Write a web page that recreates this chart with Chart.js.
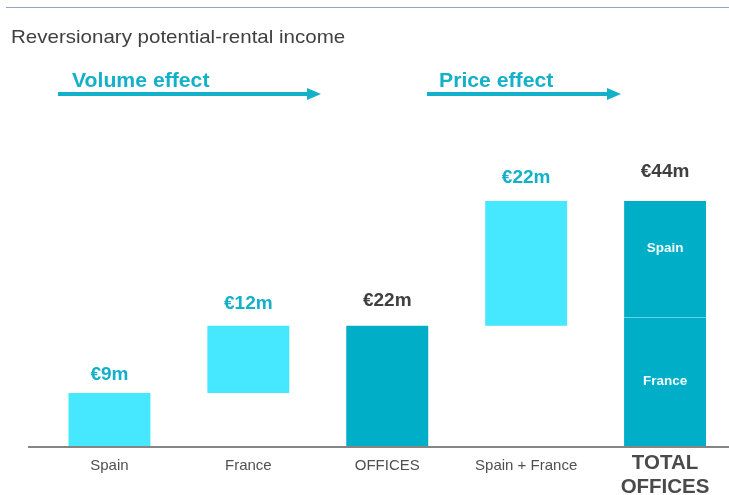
<!DOCTYPE html>
<html>
<head>
<meta charset="utf-8">
<script src="https://cdn.jsdelivr.net/npm/chart.js@4.4.1/dist/chart.umd.min.js"></script>
<style>
    html, body { margin: 0; padding: 0; background: #fff; overflow: hidden; }
    body { width: 729px; height: 495px; position: relative; font-family: "Liberation Sans", Arial, sans-serif; }
    #wrap { position: absolute; left: 0; top: 0; width: 745px; height: 495px; }
    .rule { position: absolute; left: 6px; top: 7px; width: 723px; height: 1px; background: #93a5b8; }
    .title { position: absolute; left: 11px; top: 26.5px; font-size: 19px; line-height: 1; color: #404040; white-space: nowrap; transform: scaleX(1.08); transform-origin: left center; }
    .effect { position: absolute; top: 70px; font-size: 20px; line-height: 1; font-weight: bold; color: #13b0c9; white-space: nowrap; transform: scaleX(1.06); transform-origin: left center; }
    .shaft { position: absolute; top: 92px; height: 4px; background: #13b0c9; }
    .head { position: absolute; top: 87.5px; width: 0; height: 0; border-left: 14px solid #13b0c9; border-top: 6.5px solid transparent; border-bottom: 6.5px solid transparent; }
</style>
</head>
<body>
<div id="wrap"><canvas id="chart" width="745" height="495"></canvas></div>
<div class="rule"></div>
<div class="title">Reversionary potential-rental income</div>
<div class="effect" style="left:72px">Volume effect</div>
<div class="shaft" style="left:58px;width:250px"></div>
<div class="head" style="left:307px"></div>
<div class="effect" style="left:439px">Price effect</div>
<div class="shaft" style="left:427px;width:181px"></div>
<div class="head" style="left:607px"></div>
<script>
document.addEventListener('DOMContentLoaded', function () {
    // data (EUR m)
    const categories = ['Spain', 'France', 'OFFICES', 'Spain + France', ['TOTAL', 'OFFICES']];
    const effectBars = [[0, 9.5], [9.5, 21.6], null, [21.6, 44], null];
    const officeBars = [null, null, [0, 21.6], null, [0, 23.0]];
    const totalSpainBar = [null, null, null, null, [23.0, 44]];
    const valueLabels = ['€9m', '€12m', '€22m', '€22m', '€44m'];
    const segmentLabels = ['France', 'Spain'];

    const LIGHT = '#46e8ff';
    const DARK = '#00aec7';
    const TEAL_TEXT = '#13b0c9';
    const GREY_TEXT = '#404040';
    const FONT = '"Liberation Sans", Arial, sans-serif';

    // labels above bars + inside the total bar
    const barLabels = {
        id: 'barLabels',
        afterDatasetsDraw(chart, args, opts) {
            const ctx = chart.ctx;
            ctx.save();
            ctx.textAlign = 'center';
            ctx.textBaseline = 'middle';
            categories.forEach((c, i) => {
                let top = Infinity, x = 0;
                chart.data.datasets.forEach((ds, d) => {
                    if (ds.data[i] == null) return;
                    const el = chart.getDatasetMeta(d).data[i];
                    const t = Math.min(el.y, el.base);
                    if (t < top) { top = t; x = el.x; }
                });
                ctx.font = 'bold 19px ' + FONT;
                ctx.fillStyle = opts.colors[i];
                ctx.fillText(valueLabels[i], x, top - opts.offsets[i]);
            });
            // segment names in the TOTAL OFFICES bar
            const last = categories.length - 1;
            ctx.font = 'bold 13.5px ' + FONT;
            ctx.fillStyle = '#f2feff';
            [1, 2].forEach((d, k) => {
                const el = chart.getDatasetMeta(d).data[last];
                const mid = (el.y + el.base) / 2;
                ctx.fillText(segmentLabels[k], el.x, mid + opts.innerShift[k]);
            });
            ctx.restore();
        }
    };

    // grey baseline running past the plot area
    const baseLine = {
        id: 'baseLine',
        afterDraw(chart) {
            const ctx = chart.ctx;
            const y = chart.chartArea.bottom + 1;
            ctx.save();
            ctx.strokeStyle = '#858585';
            ctx.lineWidth = 2;
            ctx.beginPath();
            ctx.moveTo(28, y);
            ctx.lineTo(chart.width, y);
            ctx.stroke();
            ctx.restore();
        }
    };

    const ctx = document.getElementById('chart').getContext('2d');
    new Chart(ctx, {
        type: 'bar',
        data: {
            labels: categories,
            datasets: [
                { label: 'Effect', data: effectBars, backgroundColor: LIGHT, borderWidth: 0 },
                { label: 'Offices', data: officeBars, backgroundColor: DARK, borderWidth: 0 },
                {
                    label: 'Total Spain', data: totalSpainBar, backgroundColor: DARK,
                    borderColor: '#62d3e4', borderSkipped: false,
                    borderWidth: { top: 0, left: 0, right: 0, bottom: 1 }
                }
            ]
        },
        options: {
            responsive: false,
            animation: false,
            barPercentage: 0.59,
            categoryPercentage: 1,
            layout: { padding: { left: 40, right: 10.5, top: 112, bottom: 0 } },
            scales: {
                x: {
                    stacked: true,
                    grid: { display: false, drawTicks: false },
                    border: { display: false },
                    afterFit: function (scale) { scale.height = 49; },
                    ticks: {
                        autoSkip: false,
                        maxRotation: 0,
                        padding: 5,
                        color: function (c) { return c.index === 4 ? '#4a4a4a' : '#505050'; },
                        font: function (c) {
                            return c.index === 4
                                ? { family: FONT, size: 20.5, weight: 'bold', lineHeight: '24px' }
                                : { family: FONT, size: 15, lineHeight: '30px' };
                        }
                    }
                },
                y: { display: false, stacked: false, min: 0, max: 60 }
            },
            plugins: {
                legend: { display: false },
                tooltip: { enabled: false },
                barLabels: {
                    colors: [TEAL_TEXT, TEAL_TEXT, GREY_TEXT, TEAL_TEXT, GREY_TEXT],
                    offsets: [18, 22, 25, 23, 29],
                    innerShift: [-1, -11]
                }
            }
        },
        plugins: [barLabels, baseLine]
    });
});
</script>
</body>
</html>
